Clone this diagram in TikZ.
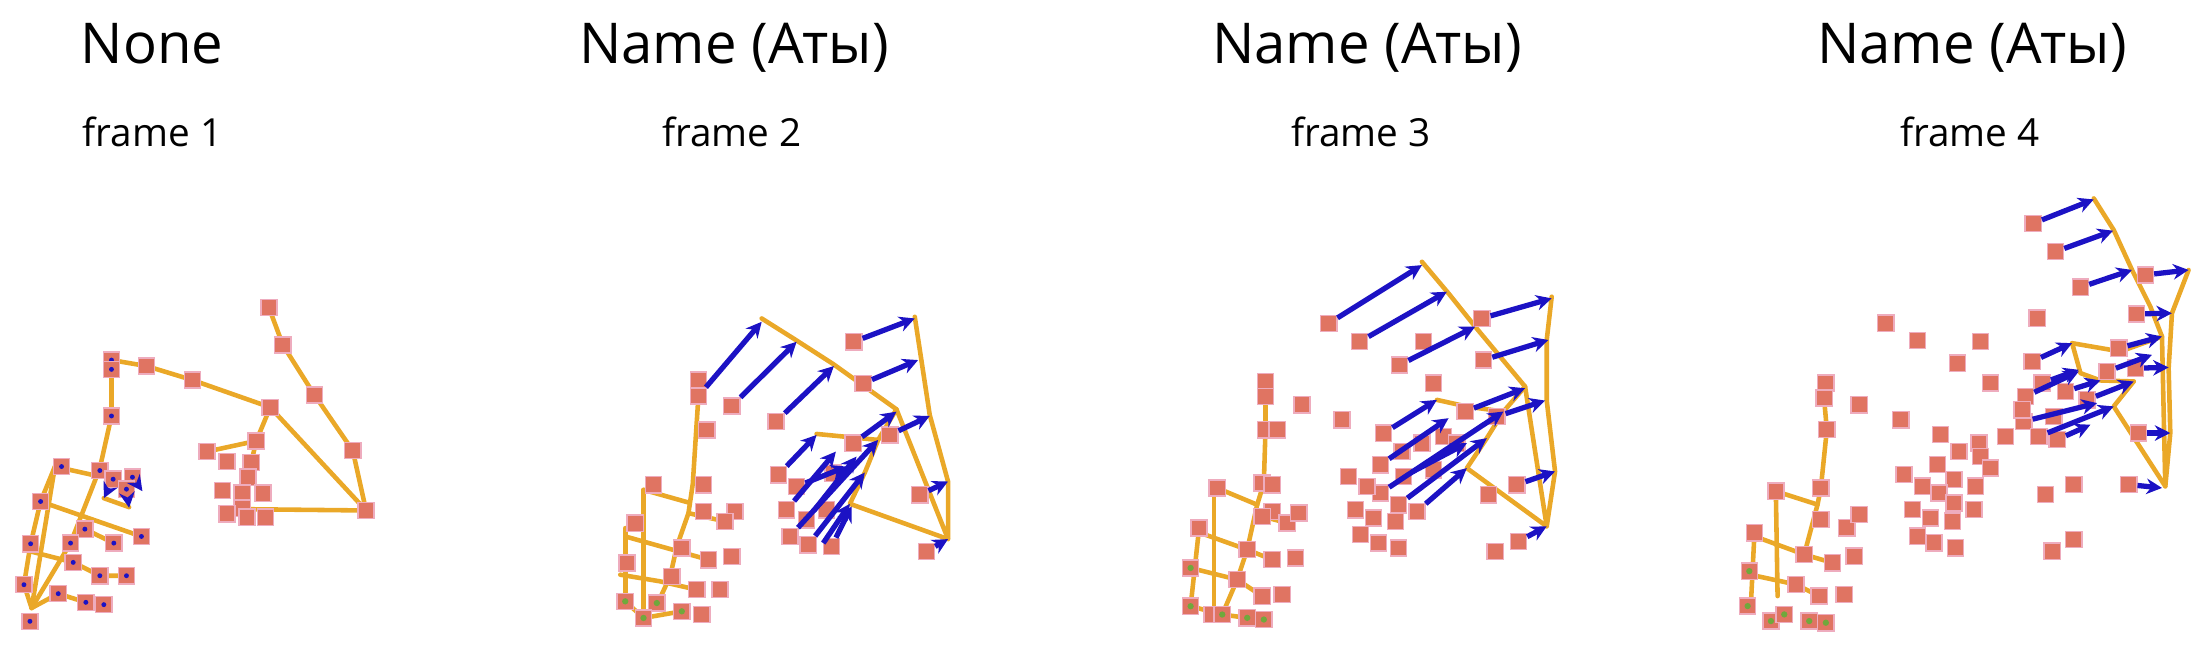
\documentclass[tikz,border=0pt]{standalone}
\usepackage{fontspec}
\setmainfont{Open Sans}
\usepackage{xcolor}
\usetikzlibrary{arrows.meta}

\definecolor{jointred}{RGB}{224,116,98}
\definecolor{jointpink}{RGB}{238,172,190}
\definecolor{boneorange}{RGB}{234,168,40}
\definecolor{flowblue}{RGB}{28,18,196}
\definecolor{dotgreen}{RGB}{112,168,60}

\tikzset{
  joint/.style={rectangle, fill=jointred, draw=jointpink, line width=0.4pt, minimum size=4.6pt, inner sep=0pt},
  bone/.style={draw=boneorange, line width=1.3pt, line cap=round, line join=round},
  flow/.style={draw=flowblue, line width=1.5pt, -{Stealth[length=4.4pt,width=4.4pt]}},
  heading/.style={font=\fontsize{16}{18}\selectfont, anchor=base, inner sep=0pt},
  framelabel/.style={font=\fontsize{11}{13}\selectfont, anchor=base, inner sep=0pt},
  panel/.style={x=0.003333cm, y=-0.003333cm}
}

\begin{document}
\begin{tikzpicture}[x=0.01cm, y=-0.01cm]
  \useasboundingbox (0,0) rectangle (2210,650);

  % headings
  \node[heading, anchor=base west] (t1) at (80,63) {None};
  \node[heading] (t2) at (734,63) {Name (Аты)};
  \node[heading] (t3) at (1367,63) {Name (Аты)};
  \node[heading] (t4) at (1972,63) {Name (Аты)};
  \node[framelabel, anchor=base west] (f1) at (82,146) {frame 1};
  \node[framelabel] (f2) at (732,146) {frame 2};
  \node[framelabel] (f3) at (1361,146) {frame 3};
  \node[framelabel] (f4) at (1970,146) {frame 4};

  % frame 1
  \begin{scope}[panel, xshift=0cm, yshift=-2.8cm]
    \draw[bone] (808,82) -- (850,195) -- (945,345) -- (1060,512) -- (1100,692) -- (812,382) -- (578,300) -- (440,258) -- (335,240) -- (335,408) -- (300,565) -- (212,790) -- (95,985);
    \draw[bone] (812,382) -- (770,483) -- (622,515);
    \draw[bone] (770,483) -- (755,548);
    \draw[bone] (728,688) -- (1100,692);
    \draw[bone] (95,985) -- (165,560) -- (300,590);
    \draw[bone] (95,985) -- (72,915) -- (92,792) -- (122,665) -- (165,560);
    \draw[bone] (122,665) -- (425,770);
    \draw[bone] (255,748) -- (342,790);
    \draw[bone] (92,815) -- (220,848) -- (300,888) -- (380,888);
    \draw[bone] (95,985) -- (175,942) -- (258,968) -- (312,975);
    \draw[bone] (312,655) -- (388,682);
    \foreach \p [count=\i] in {(808,82),(850,195),(945,345),(1060,512),(1100,692),(812,382),(578,300),(440,258),
        (770,483),(622,515),(682,545),(755,548),(745,592),(668,632),(728,640),(790,640),(728,685),(682,702),(742,712),(798,712)}
      \node[joint] (a\i) at \p {};
    \foreach \x/\y [count=\i] in {335/240,335/268,335/408,185/560,300/572,340/598,398/592,380/628,122/665,255/748,92/792,212/790,
        342/790,425/770,220/848,300/888,380/888,72/915,175/942,258/968,312/975,90/1025} {
      \node[joint] (ah\i) at (\x,\y) {};
      \fill[flowblue] (\x,\y) circle[radius=0.7pt];
    }
    \draw[flow] (ah6) -- (312,655);
    \draw[flow] (ah7) -- (428,634);
    \draw[flow] (ah8) -- (388,684);
  \end{scope}

  % frame 2
  \begin{scope}[panel, xshift=5.6cm, yshift=-2.8cm]
    \draw[bone] (605,115) -- (705,178) -- (820,252) -- (1010,388) -- (1165,778) -- (1165,605) -- (1110,405) -- (1065,110);
    \draw[bone] (1165,778) -- (870,672) -- (915,578) -- (955,480) -- (1010,388);
    \draw[bone] (770,462) -- (955,480);
    \draw[bone] (415,348) -- (408,455) -- (398,612) -- (385,700) -- (350,800) -- (330,890) -- (295,965);
    \draw[bone] (250,630) -- (250,1015);
    \draw[bone] (250,630) -- (385,668);
    \draw[bone] (195,745) -- (195,965);
    \draw[bone] (195,770) -- (445,840);
    \draw[bone] (180,885) -- (300,905) -- (410,930);
    \draw[bone] (195,965) -- (250,1015) -- (365,995);
    \draw[bone] (385,700) -- (495,725);
    \foreach \p [count=\i] in {(415,300),(415,348),(440,450),(430,615),(280,615),(430,695),(525,695),(495,725),(225,730),
        (365,805),(445,840),(515,830),(200,850),(335,890),(410,930),(480,930),(425,1005),
        (515,378),(648,425),(882,185),(910,310),(710,620),(820,580),(800,690),(740,720),(655,585),(680,690),(690,770),
        (745,795),(815,800),(880,490),(990,465),(1080,645),(1100,815)}
      \node[joint] (b\i) at \p {};
    \foreach \x/\y [count=\i] in {195/965,290/970,250/1015,365/995} {
      \node[joint] (bg\i) at (\x,\y) {};
      \fill[dotgreen] (\x,\y) circle[radius=0.9pt];
    }
    \draw[flow] (b2) -- (605,125);
    \draw[flow] (b18) -- (710,185);
    \draw[flow] (b19) -- (822,258);
    \draw[flow] (b20) -- (1065,115);
    \draw[flow] (b21) -- (1075,240);
    \draw[flow] (b33) -- (1165,605);
    \draw[flow] (b34) -- (1165,778);
    \draw[flow] (b26) -- (770,465);
    \draw[flow] (b27) -- (828,515);
    \draw[flow] (b28) -- (955,480);
    \draw[flow] (b31) -- (1010,395);
    \draw[flow] (b32) -- (1110,408);
    \draw[flow] (b29) -- (915,578);
    \draw[flow] (790,790) -- (870,672);
    \draw[flow] (b30) -- (875,680);
    \draw[flow] (b25) -- (890,530);
    \draw[flow] (b22) -- (860,560);
  \end{scope}

  % frame 3
  \begin{scope}[panel, xshift=11.5cm, yshift=-2.3cm]
    \draw[bone] (815,95) -- (895,190) -- (975,290) -- (1125,470) -- (1190,890) -- (1215,725) -- (1190,512) -- (1190,330) -- (1205,200);
    \draw[bone] (1190,890) -- (950,715) -- (1010,625) -- (1060,545) -- (950,530) -- (860,510);
    \draw[bone] (1125,470) -- (1060,545);
    \draw[bone] (345,500) -- (345,600) -- (340,760) -- (320,825) -- (290,960) -- (260,1050) -- (215,1155);
    \draw[bone] (200,775) -- (320,825);
    \draw[bone] (190,790) -- (190,1155);
    \draw[bone] (145,900) -- (120,1130);
    \draw[bone] (150,910) -- (290,960) -- (365,990);
    \draw[bone] (120,1015) -- (260,1050) -- (335,1100);
    \draw[bone] (120,1130) -- (215,1155) -- (290,1165);
    \draw[bone] (335,860) -- (410,880);
    \foreach \p [count=\i] in {(535,280),(628,335),(748,405),(995,265),(1000,390),(820,335),(850,460),(945,545),(575,570),
        (700,610),(690,705),(690,790),(745,825),(800,845),(595,740),(650,770),(615,840),(670,865),(735,875),(630,915),
        (685,940),(745,955),(1015,795),(1035,965),(1100,765),(1105,935),(755,665),(815,640),(880,620),(920,640),
        (1040,560),(850,720),(760,740),
        (345,455),(345,500),(455,525),(345,600),(380,600),(335,760),(365,765),(200,775),(365,845),(335,860),(410,880),
        (445,850),(145,895),(290,960),(365,990),(435,985),(260,1050),(335,1100),(395,1095),(185,1155)}
      \node[joint] (c\i) at \p {};
    \foreach \x/\y [count=\i] in {120/1015,120/1130,215/1155,290/1165,340/1170} {
      \node[joint] (cg\i) at (\x,\y) {};
      \fill[dotgreen] (\x,\y) circle[radius=0.9pt];
    }
    \draw[flow] (c1) -- (815,105);
    \draw[flow] (c2) -- (890,185);
    \draw[flow] (c3) -- (975,290);
    \draw[flow] (c4) -- (1205,205);
    \draw[flow] (c5) -- (1195,330);
    \draw[flow] (c8) -- (1125,475);
    \draw[flow] (c10) -- (860,510);
    \draw[flow] (c11) -- (895,565);
    \draw[flow] (c12) -- (1060,545);
    \draw[flow] (c13) -- (1010,625);
    \draw[flow] (c14) -- (950,715);
    \draw[flow] (c25) -- (1215,725);
    \draw[flow] (c26) -- (1190,890);
    \draw[flow] (c31) -- (1185,512);
    \draw[flow] (c33) -- (950,640);
  \end{scope}

  % frame 4
  \begin{scope}[panel, xshift=17.2cm, yshift=-1.7cm]
    \draw[bone] (1120,85) -- (1180,180) -- (1235,300) -- (1290,410) -- (1325,500) -- (1335,950) -- (1350,790) -- (1345,595) -- (1355,430) -- (1405,300);
    \draw[bone] (1335,950) -- (1180,710) -- (1240,635);
    \draw[bone] (1055,520) -- (1200,545) -- (1325,500);
    \draw[bone] (1055,520) -- (1080,610) -- (1140,632) -- (1240,635);
    \draw[bone] (310,690) -- (318,780) -- (300,955) -- (290,1005) -- (250,1155);
    \draw[bone] (165,965) -- (290,1005);
    \draw[bone] (165,980) -- (170,1280);
    \draw[bone] (100,1100) -- (90,1300);
    \draw[bone] (100,1100) -- (250,1155) -- (335,1180);
    \draw[bone] (85,1215) -- (225,1245) -- (295,1280);
    \foreach \p [count=\i] in {(938,160),(1005,245),(1080,352),(1275,315),(1248,432),(1195,535),(1160,605),(1245,595),
        (935,575),(915,680),(1035,665),(910,755),(955,800),(1010,810),(1255,790),(1225,945),(905,720),(965,640),
        (1100,690),(1000,740),
        (950,445),(495,460),(590,512),(780,515),(710,580),(810,640),(415,705),(540,750),(660,795),(775,820),(715,845),
        (780,860),(650,885),(810,895),(550,915),(605,950),(700,930),(765,950),(655,970),(700,1000),(575,1020),(630,1045),
        (760,1020),(695,1055),(590,1100),(640,1120),(705,1135),(855,800),(975,975),(1060,945),(995,1145),(1060,1110),
        (315,640),(310,685),(318,780),(300,955),(165,965),(300,1050),(378,1075),(415,1035),(100,1090),(250,1155),
        (335,1180),(400,1160),(225,1245),(295,1280),(370,1275)}
      \node[joint] (d\i) at \p {};
    \foreach \x/\y [count=\i] in {85/1205,80/1310,150/1355,190/1335,265/1355,315/1360} {
      \node[joint] (dg\i) at (\x,\y) {};
      \fill[dotgreen] (\x,\y) circle[radius=0.9pt];
    }
    \draw[flow] (d1) -- (1120,88);
    \draw[flow] (d2) -- (1178,182);
    \draw[flow] (d3) -- (1235,300);
    \draw[flow] (d4) -- (1405,300);
    \draw[flow] (d5) -- (1355,430);
    \draw[flow] (d6) -- (1325,500);
    \draw[flow] (d7) -- (1295,555);
    \draw[flow] (d8) -- (1345,593);
    \draw[flow] (d9) -- (1055,520);
    \draw[flow] (d10) -- (1075,605);
    \draw[flow] (d11) -- (1140,632);
    \draw[flow] (d12) -- (1130,700);
    \draw[flow] (d13) -- (1180,710);
    \draw[flow] (d14) -- (1110,765);
    \draw[flow] (d15) -- (1350,790);
    \draw[flow] (d16) -- (1325,955);
    \draw[flow] (d19) -- (1240,635);
    \draw[flow] (d18) -- (1075,600);
  \end{scope}
\end{tikzpicture}
\end{document}
